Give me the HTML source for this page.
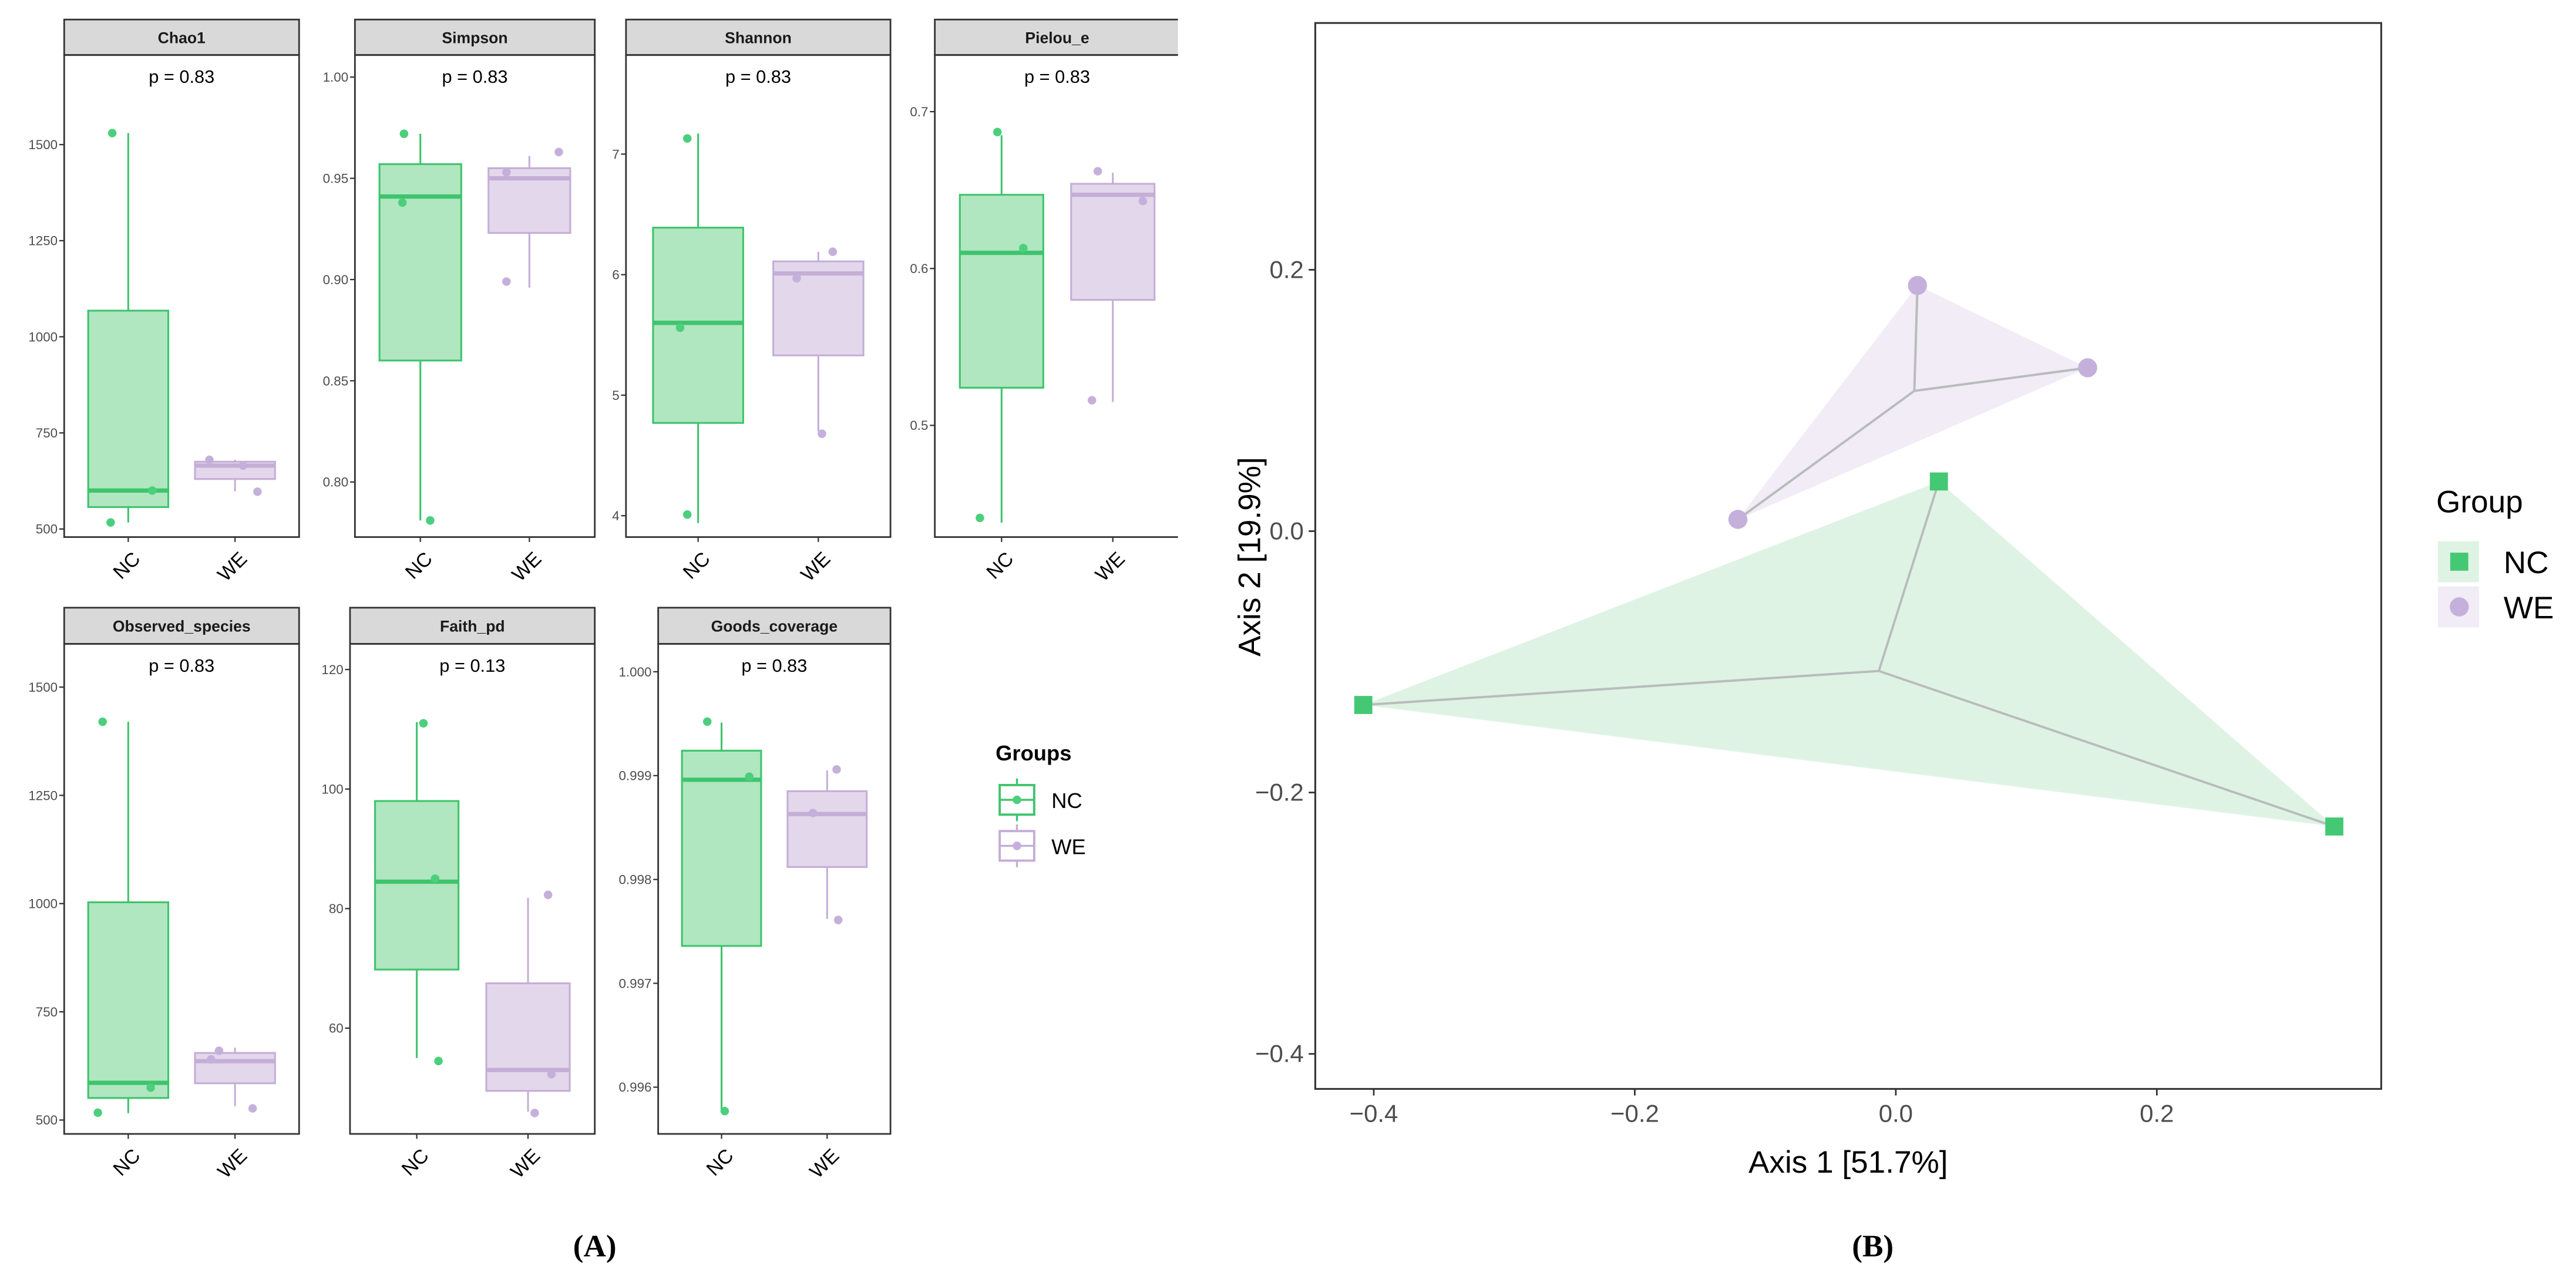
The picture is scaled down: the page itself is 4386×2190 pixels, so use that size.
<!DOCTYPE html>
<html><head><meta charset="utf-8"><style>
html,body{margin:0;padding:0;background:#fff;}
svg{display:block;font-family:"Liberation Sans",Arial,sans-serif;}
</style></head><body>
<svg id="fig" width="4386" height="2190" viewBox="0 0 1568 783" xmlns="http://www.w3.org/2000/svg">
<rect width="1568" height="783" fill="#fff"/>
<g id="panelA"></g>
<g id="panelB"></g>
<text x="362" y="765" font-family="Liberation Serif,serif" font-size="19" font-weight="bold" text-anchor="middle">(A)</text>
<text x="1140" y="765" font-family="Liberation Serif,serif" font-size="19" font-weight="bold" text-anchor="middle">(B)</text>
</svg>
<script>
const NS="http://www.w3.org/2000/svg";
// ---------- Panel A data ----------
const facetNames=["Chao1","Simpson","Shannon","Pielou_e","Observed_species","Faith_pd","Goods_coverage"];
const facetP=["p = 0.83","p = 0.83","p = 0.83","p = 0.83","p = 0.83","p = 0.13","p = 0.83"];
const facetDomains=[[479,1733],[0.7728,1.0109],[3.823,7.822],[0.4288,0.7361],[468,1600],[42.3,124.3],[0.99555,1.000269]];
const facetTicks=[[500,750,1000,1250,1500],[0.80,0.85,0.90,0.95,1.00],[4,5,6,7],[0.5,0.6,0.7],[500,750,1000,1250,1500],[60,80,100,120],[0.996,0.997,0.998,0.999,1.000]];
const facetTickDigits=[0,2,0,1,0,0,3];
// box stats: [lower whisker, q1, median, q3, upper whisker]
const ncStats=[[517,557,600,1068,1530],[0.781,0.860,0.941,0.957,0.972],[3.94,4.77,5.60,6.39,7.17],[0.438,0.524,0.610,0.647,0.685],[516,551,586,1003,1420],[55,69.8,84.5,98,111.2],[0.99577,0.99736,0.99896,0.99924,0.99951]];
const weStats=[[598,630,665,675,680],[0.896,0.923,0.950,0.955,0.961],[4.70,5.33,6.01,6.11,6.19],[0.515,0.580,0.647,0.654,0.661],[532,585,636,655,667],[46,49.5,53,67.5,81.8],[0.99762,0.99812,0.99863,0.99885,0.99905]];
const ncPoints=[[1530,600,517],[0.972,0.938,0.781],[7.13,5.56,4.01],[0.687,0.613,0.441],[1420,575,517],[111,85,54.5],[0.99952,0.99899,0.99577]];
const wePoints=[[680,665,597],[0.953,0.963,0.899],[5.97,6.19,4.68],[0.662,0.643,0.516],[660,640,527],[82.3,52.3,45.8],[0.99906,0.99864,0.99761]];
const jitterNC=[[-0.2,0.3,-0.22],[-0.2,-0.22,0.12],[-0.12,-0.2,-0.12],[-0.05,0.26,-0.26],[-0.32,0.28,-0.38],[0.08,0.22,0.26],[-0.18,0.35,0.04]];
const jitterWE=[[-0.32,0.1,0.28],[-0.28,0.36,-0.28],[-0.24,0.16,0.04],[-0.18,0.36,-0.25],[-0.2,-0.3,0.22],[0.24,0.28,0.08],[0.12,-0.18,0.14]];
// facet layout (px, not data)
const layout=[[39,182,11.9,33.5,327],[216,362,11.9,33.5,327],[381,542,11.9,33.5,327],[569,718,11.9,33.5,327],[39,182,370,392,690.4],[213,362,370,392,690.4],[400.6,542,370,392,690.4]];
const G={stroke:"#3ec46d",fill:"#b0e6c0",pt:"#4ccf7d"}, P={stroke:"#c4aed6",fill:"#e3d7eb",pt:"#c5b0db"};
function el(tag,attrs,parent,txt){const e=document.createElementNS(NS,tag);for(const k in attrs)e.setAttribute(k,attrs[k]);if(txt!==undefined)e.textContent=txt;parent.appendChild(e);return e;}
const A=document.getElementById("panelA");
const defs=el("defs",{},document.getElementById("fig"));
const cp=el("clipPath",{id:"clipA"},defs);el("rect",{x:0,y:0,width:717,height:783},cp);
A.setAttribute("clip-path","url(#clipA)");
facetNames.forEach((name,i)=>{
  const [x0,x1,st,pt,pb]=layout[i];
  const g=el("g",{},A);
  
  
  const [d0,d1]=facetDomains[i];
  const y=v=>pb-(v-d0)/(d1-d0)*(pb-pt);
  const w=x1-x0; const xc=c=>x0+(c+0.6)/2.2*w; const bw=0.75/2.2*w;
  el("rect",{x:x0,y:pt,width:w,height:pb-pt,fill:"#fff"},g);
  const s=el("rect",{x:x0,y:st,width:w,height:pt-st,fill:"#d9d9d9",stroke:"#333","stroke-width":1},g);
  
  const stt=el("text",{x:(x0+x1)/2,y:(st+pt)/2+3.5,"font-size":9.5,"font-weight":"bold","text-anchor":"middle",fill:"#1a1a1a"},g,name);
  
  const pl=el("text",{x:(x0+x1)/2,y:pt+17,"font-size":11,"text-anchor":"middle",fill:"#000"},g,facetP[i]);
  
  facetTicks[i].forEach(t=>{
    const yy=y(t);
    el("line",{x1:x0-3,x2:x0,y1:yy,y2:yy,stroke:"#333","stroke-width":0.8},g);
    const tl=el("text",{x:x0-4,y:yy+2.8,"font-size":8,"text-anchor":"end",fill:"#4d4d4d"},g,t.toFixed(facetTickDigits[i]));
    
  });
  [[ncStats[i],ncPoints[i],jitterNC[i],G,0,"nc"],[weStats[i],wePoints[i],jitterWE[i],P,1,"we"]].forEach(([st5,pts,jit,C,c,lab])=>{
    const cx=xc(c);
    const bg=el("g",{},g);
    
    el("line",{x1:cx,x2:cx,y1:y(st5[0]),y2:y(st5[1]),stroke:C.stroke,"stroke-width":1.1},bg);
    el("line",{x1:cx,x2:cx,y1:y(st5[3]),y2:y(st5[4]),stroke:C.stroke,"stroke-width":1.1},bg);
    el("rect",{x:cx-bw/2,y:y(st5[3]),width:bw,height:y(st5[1])-y(st5[3]),fill:C.fill,stroke:C.stroke,"stroke-width":1.1},bg);
    el("line",{x1:cx-bw/2,x2:cx+bw/2,y1:y(st5[2]),y2:y(st5[2]),stroke:C.stroke,"stroke-width":2.6},bg);
    pts.forEach((v,k)=>{
      const p=el("circle",{cx:cx+jit[k]*bw,cy:y(v),r:2.6,fill:C.pt},bg);
      
    });
  });
  el("rect",{x:x0,y:pt,width:w,height:pb-pt,fill:"none",stroke:"#333","stroke-width":1},g);
  ["NC","WE"].forEach((lab,c)=>{
    const cx=xc(c);
    el("line",{x1:cx,x2:cx,y1:pb,y2:pb+3,stroke:"#333","stroke-width":0.8},g);
    const ax=cx+8, ay=pb+14;
    const t=el("text",{x:ax,y:ay,"font-size":12,"text-anchor":"end",fill:"#000",transform:`rotate(-45 ${ax} ${ay})`},g,lab);
    
  });
});
const LA=el("g",{},A);

el("text",{x:606,y:463,"font-size":13,"font-weight":"bold"},LA,"Groups");
[["NC",G,487],["WE",P,515]].forEach(([lab,C,cy])=>{
  const k=el("g",{},LA);
  
  el("line",{x1:619,x2:619,y1:cy-13,y2:cy+13,stroke:C.stroke,"stroke-width":1.2},k);
  el("rect",{x:608.5,y:cy-9,width:21,height:18,fill:"#fff",stroke:C.stroke,"stroke-width":1.4},k);
  el("line",{x1:608.5,x2:629.5,y1:cy,y2:cy,stroke:C.stroke,"stroke-width":1.2},k);
  el("circle",{cx:619,cy:cy,r:2.6,fill:C.pt},k);
  el("text",{x:640,y:cy+5,"font-size":13},k,lab);
});

// ---------- Panel B data ----------
const xTicksB=[-0.4,-0.2,0.0,0.2];
const yTicksB=[-0.4,-0.2,0.0,0.2];
const ncX=[-0.408,0.033,0.336];
const ncY=[-0.133,0.038,-0.226];
const weX=[-0.121,0.0166,0.147];
const weY=[0.009,0.188,0.125];
const B=document.getElementById("panelB");
const L=800.6,R=1449.5,T=14,Bt=663;
const sx=v=>1154+v*794.5, sy=v=>323.4-v*795.7;
el("rect",{x:L,y:T,width:R-L,height:Bt-T,fill:"#fff"},B);
function group(xs,ys,fill,pt,shape,lab){
  const g=el("g",{},B);
  
  const poly=el("polygon",{points:xs.map((x,k)=>sx(x)+","+sy(ys[k])).join(" "),fill:fill},g);
  
  const mx=xs.reduce((a,b)=>a+b)/xs.length,my=ys.reduce((a,b)=>a+b)/ys.length;
  xs.forEach((x,k)=>{const s=el("line",{x1:sx(mx),y1:sy(my),x2:sx(x),y2:sy(ys[k]),stroke:"#b8bcbc","stroke-width":1.4},g);
    });
  xs.forEach((x,k)=>{let p;
    if(shape==="sq")p=el("rect",{x:sx(x)-5.5,y:sy(ys[k])-5.5,width:11,height:11,fill:pt},g);
    else p=el("circle",{cx:sx(x),cy:sy(ys[k]),r:5.8,fill:pt},g);
    });
}
group(weX,weY,"#f1ecf5","#c5b0db","ci","we");
group(ncX,ncY,"#dff3e5","#45c874","sq","nc");
el("rect",{x:L,y:T,width:R-L,height:Bt-T,fill:"none",stroke:"#333","stroke-width":1.1},B);
xTicksB.forEach(t=>{el("line",{x1:sx(t),x2:sx(t),y1:Bt,y2:Bt+4,stroke:"#333","stroke-width":1},B);
  const tl=el("text",{x:sx(t),y:Bt+20,"font-size":15,"text-anchor":"middle",fill:"#4d4d4d"},B,t===0?"0.0":(t<0?"\u2212":"")+Math.abs(t).toFixed(1));
  });
yTicksB.forEach(t=>{el("line",{x1:L-4,x2:L,y1:sy(t),y2:sy(t),stroke:"#333","stroke-width":1},B);
  const tl=el("text",{x:L-7,y:sy(t)+5,"font-size":15,"text-anchor":"end",fill:"#4d4d4d"},B,t===0?"0.0":(t<0?"\u2212":"")+Math.abs(t).toFixed(1));
  });
const xt=el("text",{x:1125,y:714,"font-size":19,"text-anchor":"middle"},B,"Axis 1 [51.7%]");

const yt=el("text",{x:767,y:339,"font-size":19,"text-anchor":"middle",transform:"rotate(-90 767 339)"},B,"Axis 2 [19.9%]");

const LB=el("g",{},B);

el("text",{x:1483,y:312,"font-size":19},LB,"Group");
[["NC","#dff3e5","#45c874",342,"sq"],["WE","#f1ecf5","#c5b0db",369.5,"ci"]].forEach(([lab,bg,c,cy,sh])=>{
  const k=el("g",{},LB);
  
  el("rect",{x:1484,y:cy-12.5,width:25,height:25,fill:bg},k);
  if(sh==="sq")el("rect",{x:1491.5,y:cy-5.5,width:11,height:11,fill:c},k);
  else el("circle",{cx:1497,cy:cy,r:5.8,fill:c},k);
  el("text",{x:1524,y:cy+7,"font-size":19},k,lab);
});
</script>
</body></html>
